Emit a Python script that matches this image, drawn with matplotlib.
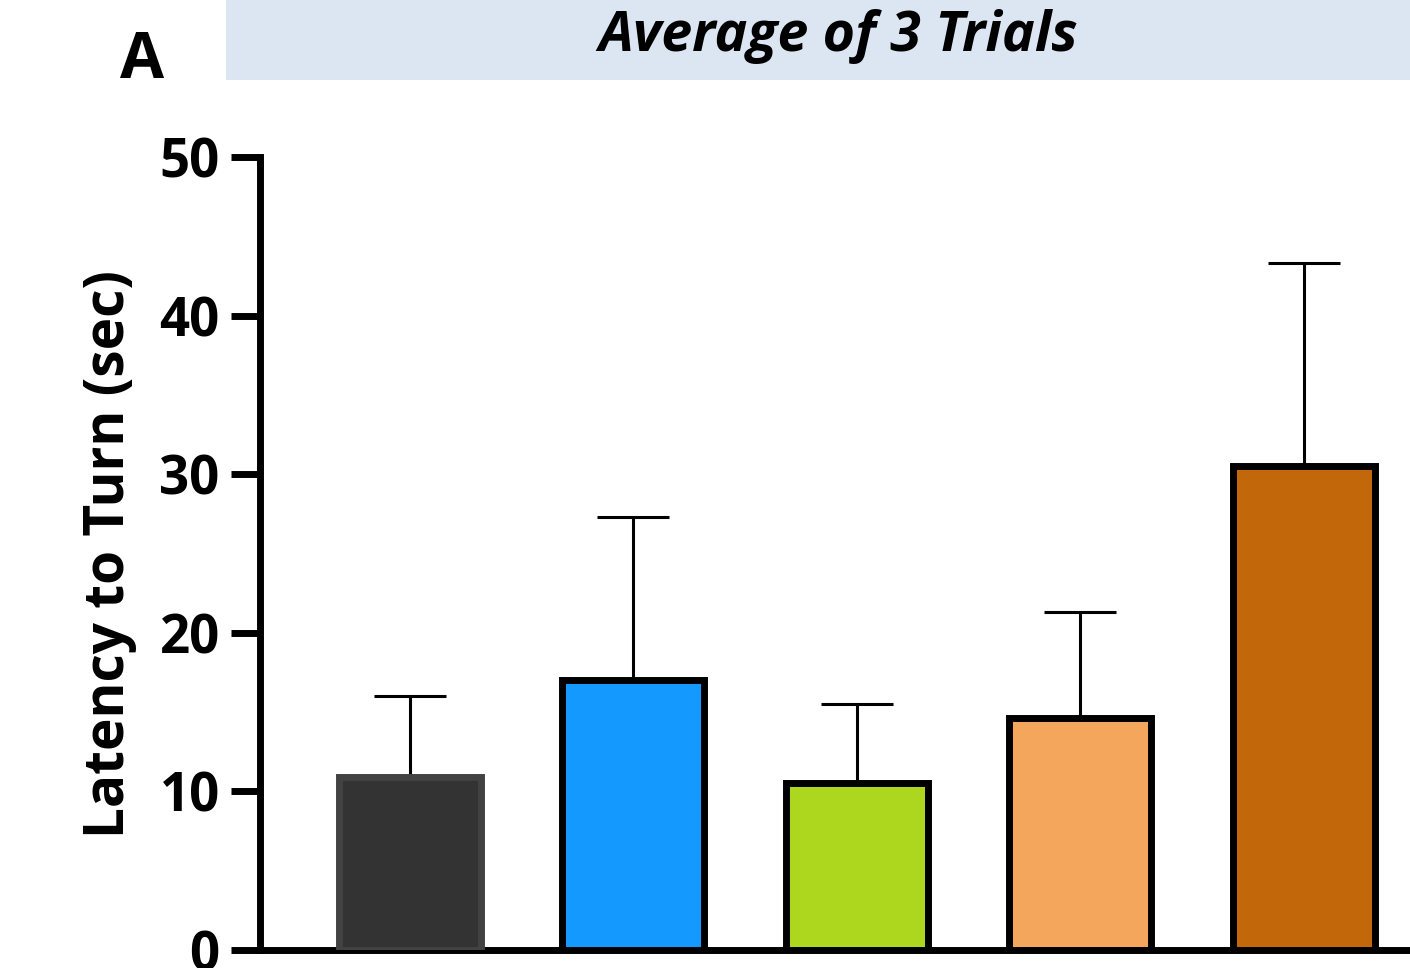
import numpy as np
import matplotlib
matplotlib.use('Agg')
import matplotlib.pyplot as plt
from matplotlib.patches import Rectangle

plt.rcParams['font.family'] = ['Open Sans', 'DejaVu Sans']

# values
groups = ['G1', 'G2', 'G3', 'G4', 'G5']
means = [10.9, 17.0, 10.5, 14.6, 30.5]
sem = [5.1, 10.3, 5.0, 6.7, 12.8]
fill_colors = ['#333333', '#1399ff', '#add61e', '#f4a65c', '#c2670a']
edge_colors = ['#424242', '#000000', '#000000', '#000000', '#000000']
yticks = [0, 10, 20, 30, 40, 50]

W, H, DPI = 1410, 968, 100
fig = plt.figure(figsize=(W / DPI, H / DPI), dpi=DPI)

# header band
fig.patches.append(Rectangle((226 / W, 1 - 80 / H), 1 - 226 / W, 80 / H,
                             transform=fig.transFigure, facecolor='#dce6f2',
                             edgecolor='none', zorder=0))
fig.text(838 / W, 1 - 36 / H, 'Average of 3 Trials', ha='center', va='center',
         fontsize=40, fontweight='bold', fontstyle='italic')
fig.text(142 / W, 1 - 62 / H, 'A', ha='center', va='center',
         fontsize=46, fontweight='bold')

ax = fig.add_axes([260 / W, 18 / H, 1 - 260 / W, (950 - 157) / H])
x = np.arange(len(groups))
ax.bar(x, means, width=0.635, color=fill_colors, edgecolor=edge_colors,
       linewidth=5, zorder=3)
ax.errorbar(x, means, yerr=[np.zeros(len(sem)), sem], fmt='none',
            ecolor='black', elinewidth=2.2, capsize=26, capthick=2.2, zorder=2)

ax.set_xlim(-0.669, 4.476)
ax.set_ylim(0, 50)
ax.set_yticks(yticks)
ax.set_xticks([])
ax.spines['top'].set_visible(False)
ax.spines['right'].set_visible(False)
ax.spines['left'].set_linewidth(5)
ax.spines['bottom'].set_linewidth(5)
ax.tick_params(axis='y', length=21, width=5, labelsize=38, pad=8)
for lab in ax.get_yticklabels():
    lab.set_fontweight('bold')
ax.set_ylabel('Latency to Turn (sec)', fontsize=39.5, fontweight='bold', labelpad=16)

fig.savefig('out.png', dpi=DPI)
